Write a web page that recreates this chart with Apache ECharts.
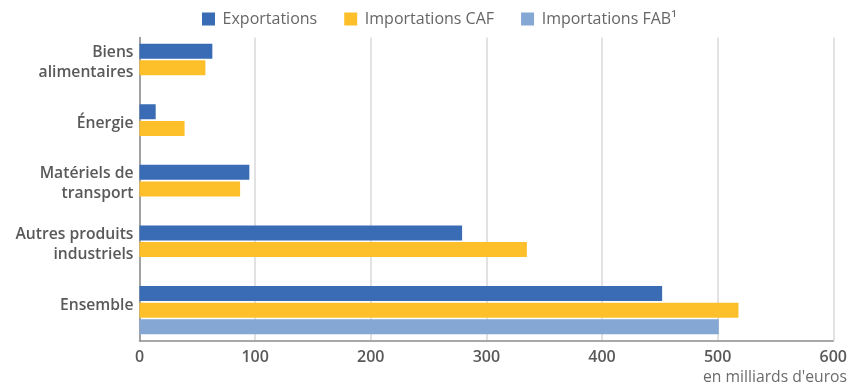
<!DOCTYPE html>
<html>
<head>
<meta charset="utf-8">
<script src="https://cdn.jsdelivr.net/npm/echarts@6/dist/echarts.min.js"></script>
<style>
  html, body { margin: 0; padding: 0; background: #fff; }
  #chart { width: 850px; height: 385px; }
</style>
</head>
<body>
<div id="chart"></div>
<script>
const categories = ['Biens\nalimentaires', 'Énergie', 'Matériels de\ntransport', 'Autres produits\nindustriels', 'Ensemble'];
const exportations = [63, 14, 95, 279, 452];
const importationsCAF = [57, 39, 87, 335, 518];
const importationsFAB = ['-', '-', '-', '-', 501];
const xTicks = [0, 100, 200, 300, 400, 500, 600];
const unitLabel = "en milliards d'euros";

const font = '"Open Sans", "Noto Sans", sans-serif';
const chart = echarts.init(document.getElementById('chart'), null, { renderer: 'canvas' });

chart.setOption({
  animation: false,
  textStyle: { fontFamily: font },
  legend: {
    left: 202,
    top: 11,
    padding: 0,
    itemWidth: 13,
    itemHeight: 13,
    itemGap: 27,
    icon: 'rect',
    textStyle: { fontFamily: font, fontSize: 16, color: '#666666', padding: [0, 0, 0, 2.6] },
    data: ['Exportations', 'Importations CAF', 'Importations FAB¹']
  },
  graphic: [{
    type: 'text',
    silent: true,
    style: {
      text: unitLabel,
      x: 847,
      y: 378,
      align: 'right',
      verticalAlign: 'middle',
      font: 'normal 15.7px ' + font,
      fill: '#6b6b6b'
    }
  }],
  grid: { left: 139.5, right: 15.5, top: 37.5, bottom: 44.5, containLabel: false },
  xAxis: {
    type: 'value',
    min: xTicks[0],
    max: xTicks[xTicks.length - 1],
    interval: xTicks[1] - xTicks[0],
    axisLine: { show: true, lineStyle: { color: '#8c8c8c', width: 1.5 } },
    axisTick: { show: false },
    splitLine: { show: true, lineStyle: { color: '#d9d9d9', width: 1.5 } },
    axisLabel: {
      margin: 9,
      fontFamily: font,
      fontSize: 16,
      fontWeight: 600,
      color: '#595959'
    }
  },
  yAxis: {
    type: 'category',
    inverse: true,
    data: categories,
    axisLine: { show: true, lineStyle: { color: '#8c8c8c', width: 1.5 } },
    axisTick: { show: false },
    axisLabel: {
      margin: 6,
      align: 'right',
      formatter: function (v) {
        return v.split('\n').map(function (l) { return '{t|' + l + '}'; }).join('\n') + '\n{s| }';
      },
      rich: {
        t: { fontFamily: font, fontSize: 15.7, fontWeight: 600, color: '#595959', lineHeight: 20 },
        s: { fontSize: 1, lineHeight: 10 }
      }
    }
  },
  series: [
    {
      name: 'Exportations', type: 'bar', data: exportations,
      barWidth: 15, barGap: '11%',
      itemStyle: { color: '#396cb4' }
    },
    {
      name: 'Importations CAF', type: 'bar', data: importationsCAF,
      barWidth: 15, barGap: '11%',
      itemStyle: { color: '#fdc02a' }
    },
    {
      name: 'Importations FAB¹', type: 'bar', data: importationsFAB,
      barWidth: 15, barGap: '11%',
      itemStyle: { color: '#85a7d4' }
    }
  ]
});
</script>
</body>
</html>
